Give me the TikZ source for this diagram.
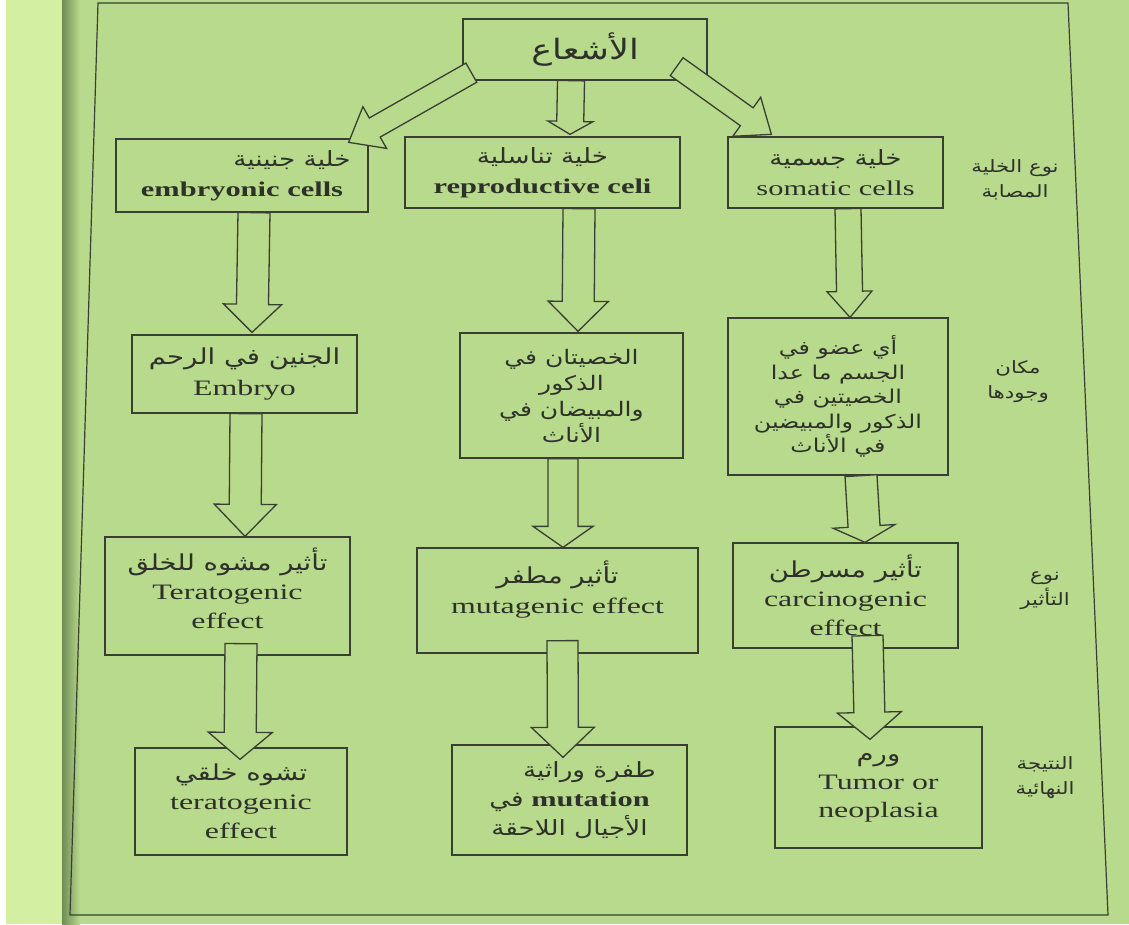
\documentclass[tikz,border=0pt]{standalone}
\usepackage{fontspec}
\setmainfont{Liberation Serif}[FakeStretch=1.45]
\newfontfamily\ar[Script=Arabic,FakeStretch=1.25]{DejaVu Sans}
\TeXXeTstate=1
\usetikzlibrary{calc}
\definecolor{page}{HTML}{B8DA8C}
\definecolor{strip}{HTML}{D3F0A2}
\definecolor{fold}{HTML}{6F8C56}
\definecolor{ink}{HTML}{3A3F33}
\definecolor{txt}{HTML}{2E302A}
\newcommand\AR[1]{{\ar\beginR #1\endR}}
% hollow block arrow: tail, tip, shaft width, head width, head length
\newcommand\hArrow[5]{%
  \draw[arrowline] let \p1=(#1), \p2=(#2),
      \n1={atan2(\y2-\y1,\x2-\x1)}, \n2={veclen(\x2-\x1,\y2-\y1)} in
    ($(\p1)+(\n1+90:#3/2)$) -- ($(\p1)+(\n1+90:#3/2)+(\n1:\n2-#5)$)
    -- ($(\p1)+(\n1+90:#4/2)+(\n1:\n2-#5)$) -- (\p2)
    -- ($(\p1)+(\n1-90:#4/2)+(\n1:\n2-#5)$) -- ($(\p1)+(\n1-90:#3/2)+(\n1:\n2-#5)$)
    -- ($(\p1)+(\n1-90:#3/2)$) -- cycle;}
\tikzset{
  box/.style={draw=ink, line width=1.3pt, align=center, inner sep=0pt, text=txt,
    font=\fontsize{22}{29}\selectfont},
  boxtext/.style={align=center, inner sep=0pt, text=txt, font=\fontsize{22}{29}\selectfont},
  arrowline/.style={draw=ink, line width=1.3pt, fill=page, line join=miter},
  side/.style={align=center, inner sep=0pt, text=txt, font=\fontsize{17}{25}\selectfont}
}
\begin{document}
\begin{tikzpicture}[x=1pt,y=-1pt]
\useasboundingbox (0,0) rectangle (1129,924);
% page background
\fill[page] (0,0) rectangle (1129,924);
\fill[strip] (0,0) rectangle (62,924);
\fill[white] (0,0) rectangle (6,924);
\shade[left color=fold, right color=page] (62,0) rectangle (80,924);
% frame
\draw[ink, line width=1.2pt] (98,3) -- (1068,3) -- (1108,915) -- (70,915) -- cycle;

% boxes
\node[box, minimum width=244pt, minimum height=61pt] (top) at (585,49.5)
  {\fontsize{28}{32}\selectfont\AR{الأشعاع}};
\node[box, minimum width=252pt, minimum height=73pt, font=\fontsize{21}{30}\selectfont] (a1) at (242,175.5)
  {\hspace*{100pt}\AR{خلية جنينية}\\ \textbf{embryonic cells}};
\node[box, minimum width=275pt, minimum height=71pt, font=\fontsize{21}{30}\selectfont] (b1) at (542.5,172.5)
  {\AR{خلية تناسلية}\\ \textbf{reproductive celi}};
\node[box, minimum width=215pt, minimum height=71pt, font=\fontsize{21}{30}\selectfont] (c1) at (835.5,172.5)
  {\AR{خلية جسمية}\\ somatic cells};
\node[box, minimum width=225pt, minimum height=78pt, font=\fontsize{22}{31}\selectfont] (a2) at (244.5,374)
  {\AR{الجنين في الرحم}\\ Embryo};
\node[box, minimum width=223pt, minimum height=125pt, font=\fontsize{20}{26}\selectfont] (b2) at (571.5,395.5)
  {\AR{الخصيتان في}\\ \AR{الذكور}\\ \AR{والمبيضان في}\\ \AR{الأناث}};
\node[box, minimum width=220pt, minimum height=157pt, font=\fontsize{19}{24.5}\selectfont] (c2) at (838,396.5)
  {\AR{أي عضو في}\\ \AR{الجسم ما عدا}\\ \AR{الخصيتين في}\\ \AR{الذكور والمبيضين}\\ \AR{في الأناث}};
\node[box, minimum width=245pt, minimum height=118pt] (a3) at (227.5,596) {};
\node[boxtext] (a3t) at ($(a3)+(0,-8)$)
  {\AR{تأثير مشوه للخلق}\\ Teratogenic\\ effect};
\node[box, minimum width=281pt, minimum height=105pt] (b3) at (557.5,600.5) {};
\node[boxtext, font=\fontsize{22}{30}\selectfont] (b3t) at ($(b3)+(0,-11)$)
  {\AR{تأثير مطفر}\\ mutagenic effect};
\node[box, minimum width=225pt, minimum height=105pt] (c3) at (845.5,595.5)
  {\AR{تأثير مسرطن}\\ carcinogenic\\ effect};
\node[box, minimum width=212pt, minimum height=107pt] (a4) at (241,801.5)
  {\AR{تشوه خلقي}\\ teratogenic\\ effect};
\node[box, minimum width=235pt, minimum height=110pt, font=\fontsize{21}{29}\selectfont] (b4) at (569.5,800)
  {\hspace*{40pt}\AR{طفرة وراثية}\\ \AR{في} \textbf{mutation}\\ \AR{الأجيال اللاحقة}};
\node[box, minimum width=207pt, minimum height=121pt, font=\fontsize{22}{28}\selectfont] (c4) at (878.5,787.5)
  {\AR{ورم}\\ Tumor or\\ neoplasia};

% side labels
\node[side] (l1) at (1015,180) {\AR{نوع الخلية}\\ \AR{المصابة}};
\node[side] (l2) at (1018,382) {\AR{مكان}\\ \AR{وجودها}};
\node[side] (l3) at (1045,591) {\AR{نوع}\\ \AR{التأثير}};
\node[side] (l4) at (1045,778) {\AR{النتيجة}\\ \AR{النهائية}};

% hollow arrows
\hArrow{$(top.south west)+(9,-8)$}{$(a1.north east)+(-20,4)$}{22pt}{48pt}{30pt}
\hArrow{$(top.south)+(-14,0)$}{$(b1.north)+(27.5,-2)$}{27pt}{45pt}{13pt}
\hArrow{$(top.south east)+(-31,-14)$}{$(c1.north west)+(44,-2)$}{22pt}{48pt}{30pt}
\hArrow{$(a1.south)+(12,0)$}{$(a2.north)+(7.5,-2)$}{32pt}{58pt}{28pt}
\hArrow{$(b1.south)+(36.5,0)$}{$(b2.north)+(6.5,-1)$}{32pt}{60pt}{30pt}
\hArrow{$(c1.south)+(12.5,0)$}{$(c2.north)+(12,0)$}{26pt}{45pt}{26pt}
\hArrow{$(a2.south)+(1.5,0)$}{$(a3.north)+(17.5,0)$}{32pt}{62pt}{32pt}
\hArrow{$(b2.south)+(-8.5,0)$}{$(b3.north)+(5.5,0)$}{30pt}{60pt}{21pt}
\hArrow{$(c2.south)+(23,0)$}{$(c3.north)+(19.5,0)$}{32pt}{62pt}{16pt}
\hArrow{$(a3.south)+(13.5,-12)$}{$(a4.north)+(-1,12)$}{32pt}{64pt}{27pt}
\hArrow{$(b3.south)+(5,-13)$}{$(b4.north)+(-6.5,13)$}{31pt}{63pt}{30pt}
\hArrow{$(c3.south)+(22,-13)$}{$(c4.north)+(-8.5,13)$}{31pt}{64pt}{27pt}
\end{tikzpicture}
\end{document}
